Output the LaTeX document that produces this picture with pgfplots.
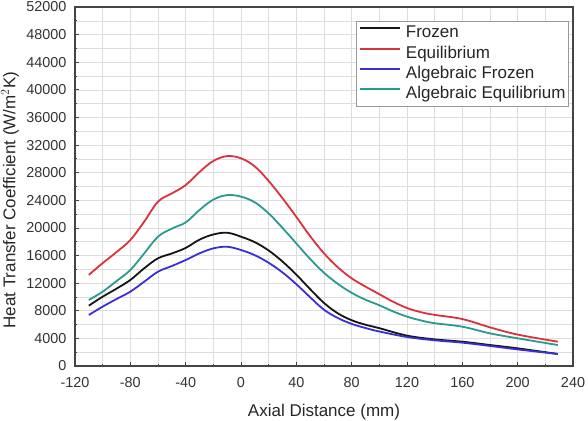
\documentclass[border=0pt]{standalone}
\usepackage{pgfplots}
\pgfplotsset{compat=1.18}
\usepackage{fontspec}
\setmainfont{Liberation Sans}
\definecolor{cred}{HTML}{D8323C}
\definecolor{cteal}{HTML}{2A9A8C}
\definecolor{cblue}{HTML}{3A2FD6}
\definecolor{cblack}{HTML}{151515}
\definecolor{frame}{HTML}{444444}
\definecolor{gridc}{HTML}{DDDDDD}
\begin{document}
\begin{tikzpicture}
\useasboundingbox (-75pt,-54pt) rectangle (513pt,366pt);
\begin{axis}[
  at={(0pt,0pt)}, anchor=south west,
  scale only axis, width=498pt, height=359pt,
  xmin=-120, xmax=240, ymin=0, ymax=52000,
  xtick={-120,-80,...,240}, ytick={0,4000,...,52000},
  minor x tick num=1, minor y tick num=1,
  scaled ticks=false,
  /pgf/number format/assume math mode=true,
  /pgf/number format/1000 sep={},
  tick align=inside, tick pos=left,
  major tick length=4pt, minor tick length=2.5pt,
  every tick/.style={frame, line width=0.8pt},
  axis line style={frame, line width=1.2pt},
  grid=both,
  major grid style={gridc, line width=0.6pt},
  minor grid style={gridc, line width=0.6pt},
  ticklabel style={font=\fontsize{14.4}{16}\selectfont, text=black!80},
  xticklabel style={yshift=-8pt},
  yticklabel style={xshift=-5pt},
  label style={font=\fontsize{17}{19}\selectfont, text=black!85},
  xlabel={Axial Distance (mm)},
  ylabel={Heat Transfer Coefficient (W/m$^2$K)},
  xlabel style={at={(axis description cs:0.5,0)}, anchor=base, yshift=-50.5pt},
  ylabel style={at={(axis description cs:-0.1305,0.462)}, anchor=center},
  legend cell align=left,
  legend image code/.code={\draw[#1, line width=1.8pt] (0pt,5pt) -- (40pt,5pt);},
  legend style={at={(rel axis cs:0.992,0.961)}, anchor=north east,
    draw=gray!80, line width=0.8pt, fill=white,
    font=\fontsize{17}{19}\selectfont, text=black!85,
    inner xsep=3pt, inner ysep=3.5pt, row sep=3.3pt,
    nodes={inner sep=0pt, text height=13pt, text depth=4pt},
    /tikz/every odd column/.append style={column sep=5pt}},
  every axis plot/.append style={line width=1.8pt, smooth, tension=0.6},
]
\addplot[cblack] coordinates {
(-110,8740) (-100,10040) (-90,11200) (-80,12460) (-70,14150) (-60,15600)
(-50,16300) (-40,17100) (-30,18300) (-20,19050) (-10,19300) (0,18730)
(10,17930) (20,16730) (30,15130) (40,13230) (50,11130) (60,9130) (70,7630)
(80,6630) (90,5980) (100,5480) (120,4400) (140,3860) (160,3520) (180,3040)
(200,2560) (229,1740)};
\addlegendentry{Frozen}
\addplot[cred] coordinates {
(-110,13200) (-100,14900) (-90,16500) (-80,18250) (-70,20900) (-60,23800)
(-50,25000) (-40,26200) (-30,28100) (-20,29700) (-10,30400) (0,30080)
(10,28900) (20,26800) (30,24300) (40,21600) (50,18800) (60,16320) (70,14300)
(80,12700) (90,11500) (100,10400) (110,9300) (120,8400) (130,7800) (140,7400)
(160,6800) (180,5600) (200,4550) (229,3520)};
\addlegendentry{Equilibrium}
\addplot[cblue] coordinates {
(-110,7390) (-100,8600) (-90,9700) (-80,10770) (-70,12210) (-60,13660)
(-50,14480) (-40,15350) (-30,16320) (-20,17040) (-10,17270) (0,16800)
(10,16050) (20,14950) (30,13550) (40,11850) (50,9950) (60,8150) (70,6950)
(80,6100) (90,5500) (100,5000) (120,4200) (140,3720) (160,3380) (180,2900)
(200,2400) (229,1740)};
\addlegendentry{Algebraic Frozen}
\addplot[cteal] coordinates {
(-110,9560) (-100,10770) (-90,12300) (-80,13900) (-70,16300) (-60,18730)
(-50,19900) (-40,20800) (-30,22600) (-20,24100) (-10,24750) (0,24530)
(10,23700) (20,22100) (30,20000) (40,17750) (50,15500) (60,13500) (70,11900)
(80,10600) (90,9600) (100,8800) (110,7900) (120,7150) (130,6600) (140,6200)
(160,5690) (180,4730) (200,4010) (229,3040)};
\addlegendentry{Algebraic Equilibrium}
\end{axis}
\end{tikzpicture}
\end{document}
